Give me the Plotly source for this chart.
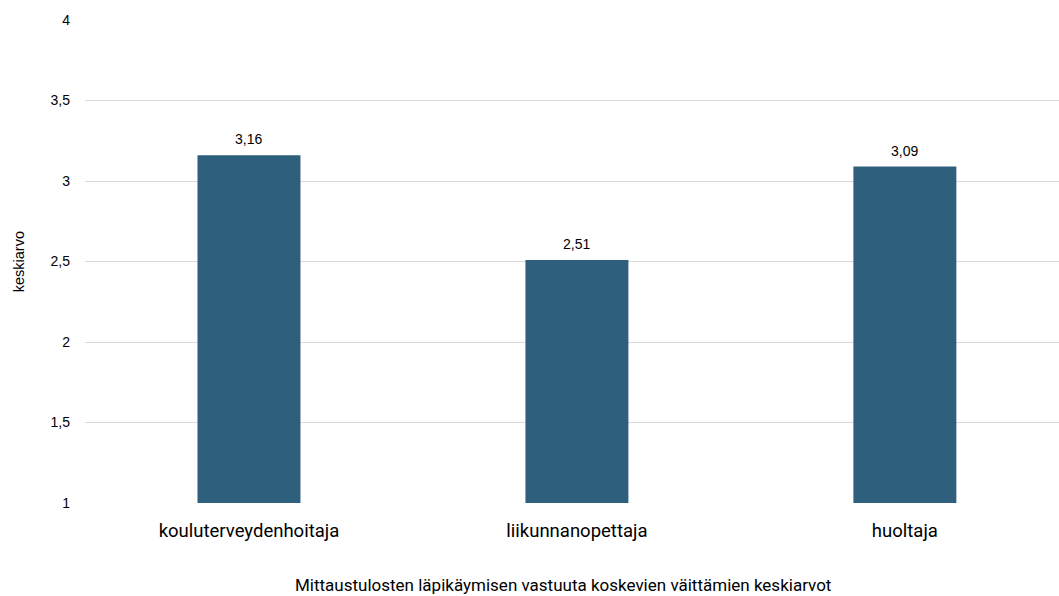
import plotly.graph_objects as go

categories = ["kouluterveydenhoitaja", "liikunnanopettaja", "huoltaja"]
values = [3.16, 2.51, 3.09]
y_ticks = [1, 1.5, 2, 2.5, 3, 3.5, 4]
y_tick_labels = ["1", "1,5", "2", "2,5", "3", "3,5", "4"]
x_title = "Mittaustulosten läpikäymisen vastuuta koskevien väittämien keskiarvot"
y_title = "keskiarvo"

fig = go.Figure()
fig.add_trace(go.Bar(
    x=categories, y=values,
    marker=dict(color="#2E5F7D", line=dict(width=0)),
    width=0.314,
))

for c, v in zip(categories, values):
    fig.add_annotation(
        x=c, y=v, xref="x", yref="y",
        text=f"{v:.2f}".replace(".", ","),
        showarrow=False, yanchor="bottom", yshift=6,
        font=dict(family="Liberation Sans, Arial", size=14, color="#000000"),
    )

fig.add_annotation(
    x=0.491, y=-0.17, xref="paper", yref="paper",
    text=x_title, showarrow=False, xanchor="center", yanchor="middle",
    font=dict(family="Roboto", size=17, color="#000000"),
)
fig.add_annotation(
    x=-0.068, y=0.5, xref="paper", yref="paper",
    text=y_title, showarrow=False, textangle=-90,
    xanchor="center", yanchor="middle",
    font=dict(family="Liberation Sans, Arial", size=14.5, color="#000000"),
)

fig.update_layout(
    width=1059, height=596,
    margin=dict(l=85, r=0, t=20, b=93),
    paper_bgcolor="white", plot_bgcolor="white",
    showlegend=False,
    xaxis=dict(
        range=[-0.5, 2.47],
        showgrid=False,
        showline=False,
        ticks="",
        ticklabelstandoff=14,
        tickfont=dict(family="Roboto", size=18.5, color="#000000"),
    ),
    yaxis=dict(
        range=[1, 4],
        tickvals=y_ticks, ticktext=y_tick_labels,
        showgrid=True, gridcolor="#D9D9D9", gridwidth=1,
        zeroline=False, showline=False,
        ticks="",
        ticklabelstandoff=14,
        tickfont=dict(family="Liberation Sans, Arial", size=14, color="#000000"),
    ),
)

fig.write_html("out.html")
